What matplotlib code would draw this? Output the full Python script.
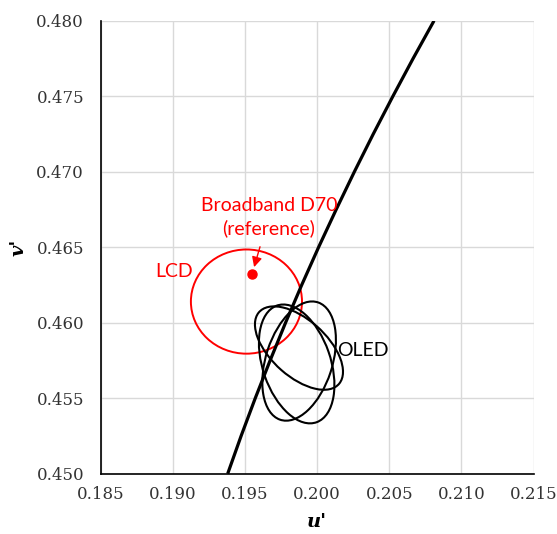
import matplotlib
matplotlib.use("Agg")
import matplotlib.pyplot as plt
from matplotlib.patches import Ellipse
import numpy as np

# blackbody locus
locus_v = [0.450, 0.4525, 0.455, 0.4575, 0.460, 0.4625, 0.465,
           0.4675, 0.470, 0.4725, 0.475, 0.4775, 0.480]
locus_u = [0.1938, 0.19473, 0.19571, 0.19674, 0.19781, 0.19893, 0.2001,
           0.20132, 0.20258, 0.20389, 0.20525, 0.20665, 0.2081]

# reference white point
ref_u = [0.1955]
ref_v = [0.4632]

# LCD ellipse (center u, center v, width, height)
lcd_ellipse = [0.1951, 0.4614, 0.0077, 0.0069]

# OLED ellipses
oled_u = [0.19874, 0.19875, 0.19858]
oled_v = [0.45832, 0.45746, 0.45727]
oled_w = [0.0073, 0.0082, 0.0082]
oled_h = [0.0038, 0.0046, 0.0047]
oled_ang = [-40, 71, 110]

xticks = [0.185, 0.190, 0.195, 0.200, 0.205, 0.210, 0.215]
yticks = [0.450, 0.455, 0.460, 0.465, 0.470, 0.475, 0.480]

fig = plt.figure(figsize=(5.57, 5.34), dpi=100)
ax = fig.add_axes([0.1808, 0.1129, 0.7772, 0.8483])

red = '#ff0000'
label_font = ['Lato', 'DejaVu Sans']

ax.plot(locus_u, locus_v, color='black', lw=2.3, zorder=3,
        solid_capstyle='butt', solid_joinstyle='round')

lcd = Ellipse((lcd_ellipse[0], lcd_ellipse[1]), lcd_ellipse[2], lcd_ellipse[3],
              fill=False, edgecolor=red, lw=1.4, zorder=2)
ax.add_patch(lcd)

for i in range(len(oled_u)):
    e = Ellipse((oled_u[i], oled_v[i]), oled_w[i], oled_h[i], angle=oled_ang[i],
                fill=False, edgecolor='black', lw=1.5, zorder=2)
    ax.add_patch(e)

ax.plot(ref_u, ref_v, 'o', color=red, markersize=6.5, zorder=4)

# labels
ax.annotate('', xy=(0.19563, 0.46368), xytext=(0.19604, 0.46503),
            arrowprops=dict(arrowstyle='-|>', color=red, lw=1, mutation_scale=15,
                            shrinkA=0, shrinkB=0))
ax.text(0.19666, 0.4670, 'Broadband D70\n(reference)', color=red, ha='center',
        va='center', fontsize=14, family=label_font, linespacing=1.3)
ax.text(0.19008, 0.46336, 'LCD', color=red, ha='center', va='center',
        fontsize=14, family=label_font)
ax.text(0.20318, 0.45819, 'OLED', color='black', ha='center', va='center',
        fontsize=14, family=label_font)

ax.set_xlim(0.185, 0.215)
ax.set_ylim(0.450, 0.480)
ax.set_xticks(xticks)
ax.set_yticks(yticks)
ax.set_xticklabels(['%.3f' % t for t in xticks])
ax.set_yticklabels(['%.3f' % t for t in yticks])
ax.tick_params(length=0, labelsize=12, labelcolor='#333333')
ax.tick_params(axis='y', pad=12)
ax.tick_params(axis='x', pad=9)
for lab in ax.get_xticklabels() + ax.get_yticklabels():
    lab.set_family('DejaVu Serif')

ax.grid(True, color='#d9d9d9', lw=1)
ax.set_axisbelow(True)
ax.spines['top'].set_visible(False)
ax.spines['right'].set_visible(False)
ax.spines['left'].set_color('black')
ax.spines['bottom'].set_color('black')
ax.spines['left'].set_linewidth(1.2)
ax.spines['bottom'].set_linewidth(1.2)

ax.set_xlabel("u'", family='DejaVu Serif', weight='bold', style='italic', fontsize=14)
ax.set_ylabel("v'", family='DejaVu Serif', weight='bold', style='italic', fontsize=14)
ax.xaxis.set_label_coords(0.5, -0.087)
ax.yaxis.set_label_coords(-0.17, 0.5)

fig.savefig('out.png', dpi=100)
